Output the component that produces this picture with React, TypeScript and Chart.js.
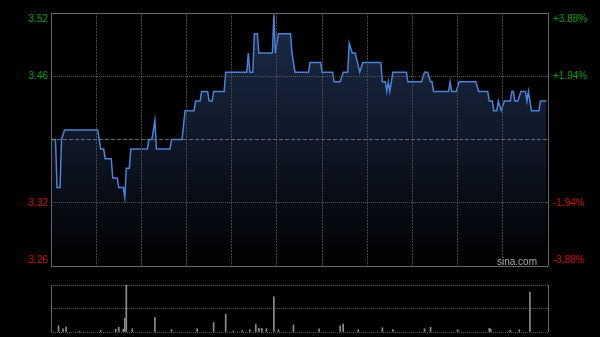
import React, { useEffect, useRef } from 'react';
import { Chart, registerables } from 'chart.js';

Chart.register(...registerables);

// ---------- data ----------
const prevClose = 3.39;
const pctLevels = [-3.88, -1.94, 0, 1.94, 3.88];
const priceTickLabels = ['3.26', '3.32', '', '3.46', '3.52'];
const pctTickLabels = ['-3.88%', '-1.94%', '', '+1.94%', '+3.88%'];
const sessionMinutes = 330;
const gridMinuteStep = 30;

const priceMinutes = [
  0, 3, 4, 6, 7, 9, 31, 33, 35, 36, 40, 41, 44, 45, 48, 49, 50, 52, 53, 64, 65, 67, 69, 70, 79, 80,
  87, 89, 95, 96, 99, 100, 104, 105, 107, 108, 115, 116, 130, 131, 132, 134, 135, 137, 138, 147, 148,
  149, 151, 159, 160, 162, 171, 172, 179, 180, 187, 188, 192, 194, 197, 198, 200, 202, 205, 207, 219,
  220, 222, 223, 224, 225, 227, 236, 237, 246, 248, 250, 252, 253, 254, 264, 265, 266, 269, 271, 282,
  284, 290, 291, 293, 294, 296, 297, 299, 301, 305, 306, 307, 308, 310, 312, 315, 316, 317, 319, 324,
  325, 329,
];
const priceValues = [
  3.39, 3.39, 3.34, 3.34, 3.39, 3.40, 3.40, 3.38, 3.38, 3.37, 3.37, 3.35, 3.35, 3.34, 3.34, 3.33, 3.36,
  3.36, 3.38, 3.38, 3.39, 3.39, 3.41, 3.38, 3.38, 3.39,
  3.39, 3.42, 3.42, 3.43, 3.43, 3.44, 3.44, 3.43, 3.43, 3.44, 3.44, 3.46, 3.46, 3.48, 3.46, 3.46, 3.50,
  3.50, 3.48, 3.48, 3.52,
  3.48, 3.50, 3.50, 3.48, 3.46, 3.46, 3.47, 3.47, 3.46, 3.46, 3.45, 3.45, 3.46, 3.46, 3.49, 3.48, 3.48,
  3.46, 3.47, 3.47,
  3.45, 3.45, 3.44, 3.45, 3.44, 3.46, 3.46, 3.45, 3.45, 3.46, 3.46, 3.45, 3.45, 3.44, 3.44, 3.45, 3.44,
  3.44, 3.45, 3.45,
  3.44, 3.44, 3.43, 3.43, 3.42, 3.42, 3.43, 3.42, 3.43, 3.43, 3.44, 3.44, 3.43, 3.43, 3.44, 3.44, 3.43,
  3.44, 3.42, 3.42,
  3.43, 3.43,
];

const volumeMinutes = [
  5, 8, 10, 19, 33, 43, 45, 48, 49, 50, 54, 69, 80, 97, 108, 116, 121, 127, 132, 136, 138, 140, 143,
  148, 151, 161, 178, 192, 194, 204, 220, 227, 248, 252, 270, 291, 292, 305, 311, 318,
];
const volumeValues = [
  13, 7, 11, 2, 3, 6, 10, 6, 29, 100, 7, 31, 5, 7, 20, 38, 2, 3, 5, 16, 8, 8, 7,
  75, 5, 15, 7, 13, 17, 5, 9, 5, 7, 10, 5, 8, 6, 4, 5, 85,
];
const volumeMax = 100;

// ---------- styling ----------
const FONT = '"Liberation Sans", Arial, sans-serif';
const GREEN = 'rgb(0,165,0)';
const RED = 'rgb(215,10,0)';
const EDGE = '#666666';

const tickValues = pctLevels.map((p) => prevClose * (1 + p / 100));
const yMin = tickValues[0];
const yMax = tickValues[tickValues.length - 1];

function edgeLabel(label: string, index: number, count: number): string | string[] {
  if (index === 0) return [label, ''];
  if (index === count - 1) return ['', label];
  return label;
}

function labelColor(index: number) {
  if (pctLevels[index] > 0) return GREEN;
  if (pctLevels[index] < 0) return RED;
  return 'rgba(0,0,0,0)';
}

const watermark = {
  id: 'watermark',
  afterDatasetsDraw(chart: any) {
    const { ctx, chartArea } = chart;
    ctx.save();
    ctx.font = `10px ${FONT}`;
    ctx.fillStyle = '#a8a8a8';
    ctx.textAlign = 'right';
    ctx.textBaseline = 'alphabetic';
    ctx.fillText('sina.com', chartArea.right - 11, chartArea.bottom - 1);
    ctx.restore();
  },
};

export default function App() {
  const mainRef = useRef<HTMLCanvasElement | null>(null);
  const volRef = useRef<HTMLCanvasElement | null>(null);

  useEffect(() => {
    if (!mainRef.current || !volRef.current) return;

    const isEdgeX = (v: number) => v === 0 || v === sessionMinutes;

    const main = new Chart(mainRef.current, {
      type: 'line',
      data: {
        datasets: [
          {
            data: priceMinutes.map((m, i) => ({ x: m, y: priceValues[i] })),
            borderColor: '#4a82d6',
            borderWidth: 1.5,
            pointRadius: 0,
            tension: 0,
            fill: 'start',
            backgroundColor: (c: any) => {
              const area = c.chart.chartArea;
              if (!area) return 'rgba(0,0,0,0)';
              const g = c.chart.ctx.createLinearGradient(0, area.top, 0, area.bottom);
              g.addColorStop(0, 'rgb(27,43,72)');
              g.addColorStop(0.5, 'rgb(15,24,40)');
              g.addColorStop(1, 'rgb(0,0,0)');
              return g;
            },
          },
        ],
      },
      options: {
        animation: false,
        responsive: false,
        maintainAspectRatio: false,
        events: [],
        layout: { padding: { top: 13, bottom: 9, left: 0, right: 0 } },
        plugins: { legend: { display: false }, tooltip: { enabled: false } },
        scales: {
          x: {
            type: 'linear',
            min: 0,
            max: sessionMinutes,
            ticks: { display: false, stepSize: gridMinuteStep },
            grid: {
              z: 1,
              drawTicks: false,
              lineWidth: 1,
              color: (c: any) => (isEdgeX(c.tick?.value) ? EDGE : 'rgba(80,80,80,0.85)'),
            },
            border: {
              display: false,
              dash: (c: any) => (isEdgeX(c.tick?.value) ? [] : [2, 1]),
            },
            afterFit: (s: any) => {
              s.height = 0;
              s.paddingLeft = 0;
              s.paddingRight = 0;
            },
          },
          y: {
            position: 'left',
            min: yMin,
            max: yMax,
            afterBuildTicks: (s: any) => {
              s.ticks = tickValues.map((v) => ({ value: v }));
            },
            ticks: {
              padding: 3,
              font: { family: FONT, size: 10 },
              color: (c: any) => labelColor(c.index),
              callback: (_v: any, i: number) => edgeLabel(priceTickLabels[i], i, tickValues.length),
            },
            grid: {
              z: 1,
              drawTicks: false,
              lineWidth: 1,
              color: (c: any) => {
                const i = c.index;
                if (i === 0 || i === tickValues.length - 1) return EDGE;
                if (pctLevels[i] === 0) return 'rgba(120,124,130,0.8)';
                return 'rgba(95,95,95,0.9)';
              },
            },
            border: {
              display: false,
              dash: (c: any) => {
                const i = c.index;
                if (i === 0 || i === tickValues.length - 1) return [];
                if (pctLevels[i] === 0) return [4, 2];
                return [1, 1];
              },
            },
            afterFit: (s: any) => {
              s.width = 51;
              s.paddingTop = 0;
              s.paddingBottom = 0;
            },
          },
          y2: {
            position: 'right',
            min: yMin,
            max: yMax,
            afterBuildTicks: (s: any) => {
              s.ticks = tickValues.map((v) => ({ value: v }));
            },
            ticks: {
              padding: 5,
              font: { family: FONT, size: 10 },
              color: (c: any) => labelColor(c.index),
              callback: (_v: any, i: number) => edgeLabel(pctTickLabels[i], i, tickValues.length),
            },
            grid: { drawOnChartArea: false, drawTicks: false },
            border: { display: false },
            afterFit: (s: any) => {
              s.width = 52;
              s.paddingTop = 0;
              s.paddingBottom = 0;
            },
          },
        },
      },
      plugins: [watermark],
    } as any);

    const vol = new Chart(volRef.current, {
      type: 'bar',
      data: {
        datasets: [
          {
            data: volumeMinutes.map((m, i) => ({ x: m, y: volumeValues[i] })),
            backgroundColor: '#8c8c8c',
            borderWidth: 0,
            barThickness: 1,
          },
        ],
      },
      options: {
        animation: false,
        responsive: false,
        maintainAspectRatio: false,
        events: [],
        layout: { padding: { top: 10, bottom: 5, left: 0, right: 52 } },
        plugins: { legend: { display: false }, tooltip: { enabled: false } },
        scales: {
          x: {
            type: 'linear',
            min: 0,
            max: sessionMinutes,
            offset: false,
            ticks: { display: false, stepSize: gridMinuteStep },
            grid: {
              offset: false,
              drawTicks: false,
              color: (c: any) => (isEdgeX(c.tick?.value) ? EDGE : 'rgba(0,0,0,0)'),
            },
            border: { display: false },
            afterFit: (s: any) => {
              s.height = 0;
              s.paddingLeft = 0;
              s.paddingRight = 0;
            },
          },
          y: {
            position: 'left',
            min: 0,
            max: volumeMax,
            ticks: { display: false, stepSize: volumeMax / 2 },
            grid: { drawTicks: false, color: '#5a5a5a' },
            border: { display: false, dash: [1, 1] },
            afterFit: (s: any) => {
              s.width = 51;
              s.paddingTop = 0;
              s.paddingBottom = 0;
            },
          },
        },
      },
    } as any);

    return () => {
      main.destroy();
      vol.destroy();
    };
  }, []);

  return (
    <div
      style={{
        position: 'fixed',
        left: 0,
        top: 0,
        width: 600,
        height: 337,
        background: '#000',
        overflow: 'hidden',
      }}
    >
      <canvas
        ref={mainRef}
        width={600}
        height={275}
        style={{ position: 'absolute', left: 0, top: 0, width: 600, height: 275, display: 'block' }}
      />
      <canvas
        ref={volRef}
        width={600}
        height={62}
        style={{ position: 'absolute', left: 0, top: 275, width: 600, height: 62, display: 'block' }}
      />
    </div>
  );
}
